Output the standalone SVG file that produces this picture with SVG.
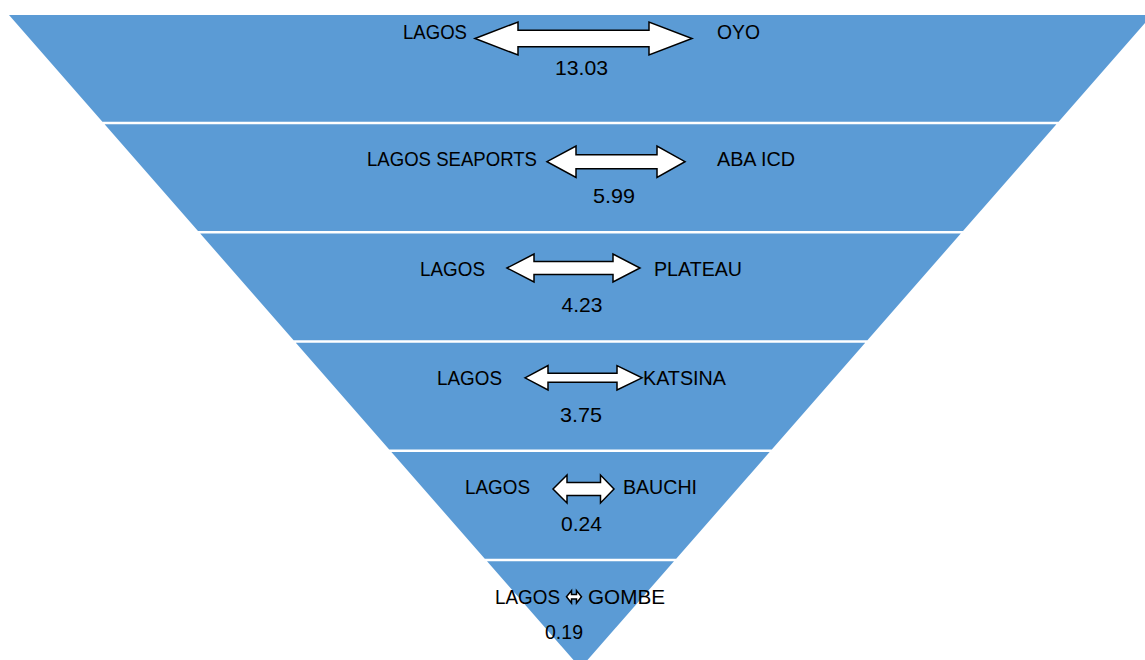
<svg xmlns="http://www.w3.org/2000/svg" width="1145" height="660" viewBox="0 0 1145 660">
  <style>
    .band { fill: #5B9BD5; }
    .lbl { font-family: "Liberation Sans", Arial, sans-serif; font-size: 19.5px; fill: #000; }
    .num { font-family: "Liberation Sans", Arial, sans-serif; font-size: 21px; fill: #000; text-anchor: middle; }
    .end { text-anchor: end; }
    .arrow { fill: #fff; stroke: #000; stroke-width: 1.5; stroke-linejoin: miter; }
  </style>
  <rect width="1145" height="660" fill="#fff"/>

  <!-- inverted pyramid, six bands -->
  <g id="band-oyo">
    <polygon class="band" points="9,15 1152,15 1058.6,121.75 102.4,121.75"/>
    <text class="lbl end" x="467" y="39" textLength="64" lengthAdjust="spacingAndGlyphs">LAGOS</text>
    <text class="lbl" x="717" y="39" textLength="43" lengthAdjust="spacingAndGlyphs">OYO</text>
    <text class="num" x="581.5" y="75" textLength="53" lengthAdjust="spacingAndGlyphs">13.03</text>
  </g>
  <g id="band-aba">
    <polygon class="band" points="104.6,124.25 1056.4,124.25 963,231 198,231"/>
    <text class="lbl end" x="537" y="166" textLength="170" lengthAdjust="spacingAndGlyphs">LAGOS SEAPORTS</text>
    <text class="lbl" x="717" y="166" textLength="78" lengthAdjust="spacingAndGlyphs">ABA ICD</text>
    <text class="num" x="614" y="203" textLength="42" lengthAdjust="spacingAndGlyphs">5.99</text>
  </g>
  <g id="band-plateau">
    <polygon class="band" points="200.2,233.5 960.8,233.5 867.4,340.25 293.6,340.25"/>
    <text class="lbl end" x="485" y="275.5" textLength="65" lengthAdjust="spacingAndGlyphs">LAGOS</text>
    <text class="lbl" x="654" y="275.5" textLength="88" lengthAdjust="spacingAndGlyphs">PLATEAU</text>
    <text class="num" x="582" y="311.5" textLength="41" lengthAdjust="spacingAndGlyphs">4.23</text>
  </g>
  <g id="band-katsina">
    <polygon class="band" points="295.8,342.75 865.2,342.75 771.8,449.5 389.2,449.5"/>
    <text class="lbl end" x="502" y="385" textLength="65" lengthAdjust="spacingAndGlyphs">LAGOS</text>
    <text class="lbl" x="643" y="385" textLength="83" lengthAdjust="spacingAndGlyphs">KATSINA</text>
    <text class="num" x="581" y="421.5" textLength="42" lengthAdjust="spacingAndGlyphs">3.75</text>
  </g>
  <g id="band-bauchi">
    <polygon class="band" points="391.4,452 769.6,452 676.2,558.75 484.8,558.75"/>
    <text class="lbl end" x="530" y="494" textLength="65" lengthAdjust="spacingAndGlyphs">LAGOS</text>
    <text class="lbl" x="623" y="494" textLength="74" lengthAdjust="spacingAndGlyphs">BAUCHI</text>
    <text class="num" x="581.5" y="531" textLength="41" lengthAdjust="spacingAndGlyphs">0.24</text>
  </g>
  <g id="band-gombe">
    <polygon class="band" points="487,561.25 674,561.25 580.5,668"/>
    <text class="lbl end" x="560" y="603.5" textLength="65" lengthAdjust="spacingAndGlyphs">LAGOS</text>
    <text class="lbl" x="588" y="603.5" textLength="77" lengthAdjust="spacingAndGlyphs">GOMBE</text>
    <text class="num" x="564" y="639" textLength="38" lengthAdjust="spacingAndGlyphs">0.19</text>
  </g>

  <!-- double-headed block arrows -->
  <g id="connectors">
    <path class="arrow" d="M475,38.5 L518,22 L518,30.2 L649,30.2 L649,22 L692,38.5 L649,55 L649,46.8 L518,46.8 L518,55 Z"/>
    <path class="arrow" d="M547,161.7 L576,146 L576,154.7 L657,154.7 L657,146 L685,161.7 L657,177.4 L657,168.7 L576,168.7 L576,177.4 Z"/>
    <path class="arrow" d="M507,268 L534,254 L534,261.5 L613,261.5 L613,254 L640,268 L613,282 L613,274.5 L534,274.5 L534,282 Z"/>
    <path class="arrow" d="M525,377.8 L548,365.6 L548,373.3 L617,373.3 L617,365.6 L642,377.8 L617,390 L617,382.3 L548,382.3 L548,390 Z"/>
    <path class="arrow" d="M553,489 L567,475 L567,482.5 L600.5,482.5 L600.5,475 L614,489 L600.5,503 L600.5,495.5 L567,495.5 L567,503 Z"/>
    <path class="arrow" stroke-width="1" d="M566.5,596.7 L571.5,590.5 L571.5,594.5 L576.5,594.5 L576.5,590.5 L581.5,596.7 L576.5,603 L576.5,599 L571.5,599 L571.5,603 Z"/>
  </g>
</svg>
